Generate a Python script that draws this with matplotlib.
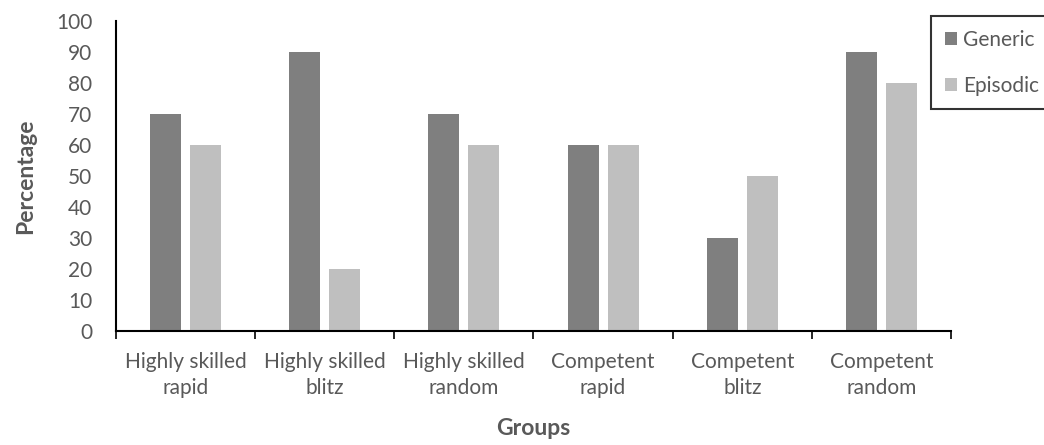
import numpy as np
import matplotlib.pyplot as plt

# Dati
groups = ['Highly skilled\nrapid', 'Highly skilled\nblitz', 'Highly skilled\nrandom',
          'Competent\nrapid', 'Competent\nblitz', 'Competent\nrandom']
generic = [70, 90, 70, 60, 30, 90]
episodic = [60, 20, 60, 60, 50, 80]

plt.rcParams['font.family'] = ['Lato', 'DejaVu Sans']
text_col = '#595959'

fig = plt.figure(figsize=(10.44, 4.45), dpi=100)
ax = fig.add_axes([0.111, 0.256, 0.800, 0.697])

x = np.arange(len(groups)) + 0.5
w = 0.223
ax.bar(x - 0.144, generic, w, color='#7f7f7f', label='Generic')
ax.bar(x + 0.144, episodic, w, color='#bfbfbf', label='Episodic')

ax.set_xlim(0, len(groups))
ax.set_ylim(0, 100)
ax.set_yticks(range(0, 101, 10))
ax.set_xticks(x)
ax.set_xticklabels(groups, color=text_col, fontsize=15, linespacing=1.4)
ax.set_xticks(np.arange(len(groups) + 1), minor=True)
ax.tick_params(axis='x', which='major', length=0, pad=15)
ax.tick_params(axis='x', which='minor', length=6, width=1.2, color='black')
ax.tick_params(axis='y', length=0, pad=17, labelsize=15, labelcolor=text_col)

for s in ['top', 'right']:
    ax.spines[s].set_visible(False)
for s in ['left', 'bottom']:
    ax.spines[s].set_linewidth(1.5)
    ax.spines[s].set_color('black')

ax.set_xlabel('Groups', fontsize=16.5, fontweight='bold', color=text_col, labelpad=14)
ax.set_ylabel('Percentage', fontsize=16.5, fontweight='bold', color=text_col, labelpad=14)

leg = fig.legend(loc='upper left', bbox_to_anchor=(931 / 1044, 1 - 16 / 445),
                 fontsize=15, frameon=True, fancybox=False, handlelength=0.6,
                 handleheight=0.6, handletextpad=0.3, labelspacing=1.25,
                 borderpad=0.65, borderaxespad=0)
leg.get_frame().set_edgecolor('black')
leg.get_frame().set_linewidth(1.5)
for t in leg.get_texts():
    t.set_color(text_col)

fig.savefig('out.png', dpi=100)
